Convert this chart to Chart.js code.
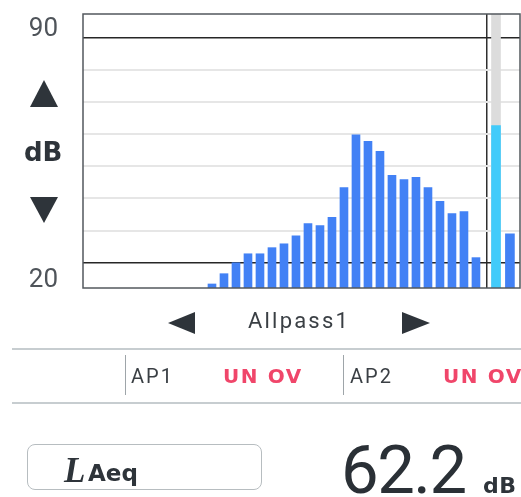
<!DOCTYPE html>
<html>
<head>
<meta charset="utf-8">
<script src="https://cdn.jsdelivr.net/npm/chart.js@4/dist/chart.umd.min.js"></script>
<style>
  html, body { margin: 0; padding: 0; background: #ffffff; }
  #page { position: relative; width: 521px; height: 497px; overflow: hidden; background: #fff; }
  #wrap { position: absolute; left: 0; top: 0; width: 521px; height: 497px; }
  .t { position: absolute; white-space: nowrap; margin: 0; padding: 0; }
  .tri { position: absolute; background: #2e343a; }
  .hl { position: absolute; height: 1.5px; background: #c7cdd0; }
  .vl { position: absolute; width: 1.5px; background: #9ea5a9; }
</style>
</head>
<body>
<div id="page">
  <div id="wrap"><canvas id="c"></canvas></div>

  <span class="t" id="yTop" style="font-family:Roboto;font-size:26px;line-height:26px;color:#4f545a;right:463px;top:14px;"></span>
  <div class="tri" style="left:30px;top:80px;width:28px;height:27px;clip-path:polygon(50% 0,100% 100%,0 100%);"></div>
  <span class="t" style="font-family:'DejaVu Sans';font-weight:bold;font-size:26px;line-height:26px;color:#2e343a;left:24px;top:139px;">dB</span>
  <div class="tri" style="left:30px;top:197px;width:28px;height:26px;clip-path:polygon(0 0,100% 0,50% 100%);"></div>
  <span class="t" id="yBot" style="font-family:Roboto;font-size:26px;line-height:26px;color:#4f545a;right:463px;top:264.5px;"></span>

  <div class="tri" style="left:168px;top:312px;width:27px;height:22px;clip-path:polygon(0 50%,100% 0,100% 100%);"></div>
  <span class="t" id="modeName" style="font-family:Roboto;font-size:22px;line-height:22px;color:#3a3f44;left:248px;top:309.5px;letter-spacing:2.2px;"></span>
  <div class="tri" style="left:402px;top:312px;width:28px;height:22px;clip-path:polygon(0 0,100% 50%,0 100%);"></div>

  <div class="hl" style="left:12px;top:348px;width:509px;"></div>
  <div class="vl" style="left:124.5px;top:355px;height:40px;"></div>
  <span class="t" id="ap1" style="font-family:Roboto;font-size:20px;line-height:20px;color:#3a3f44;left:131px;top:366px;letter-spacing:2px;"></span>
  <span class="t" id="st1" style="font-family:'DejaVu Sans';font-weight:bold;font-size:20px;line-height:20px;color:#f0466a;left:223px;top:366px;letter-spacing:1.6px;"></span>
  <div class="vl" style="left:342.5px;top:355px;height:40px;"></div>
  <span class="t" id="ap2" style="font-family:Roboto;font-size:20px;line-height:20px;color:#3a3f44;left:350px;top:366px;letter-spacing:2px;"></span>
  <span class="t" id="st2" style="font-family:'DejaVu Sans';font-weight:bold;font-size:20px;line-height:20px;color:#f0466a;left:443px;top:366px;letter-spacing:1.6px;"></span>
  <div class="hl" style="left:12px;top:402px;width:509px;"></div>

  <div style="position:absolute;left:26.5px;top:444px;width:233.5px;height:43.5px;border:1.5px solid #b7bdc0;border-radius:8px;"></div>
  <span class="t" style="font-family:'Liberation Serif';font-style:italic;font-weight:bold;font-size:35px;line-height:35px;color:#2e343a;left:64px;top:452.5px;">L</span>
  <span class="t" style="font-family:'DejaVu Sans';font-weight:bold;font-size:23px;line-height:23px;color:#2e343a;left:88px;top:462px;">Aeq</span>
  <span class="t" id="bigVal" style="font-family:Roboto;font-size:67px;line-height:67px;color:#2a3036;left:341px;top:436.5px;letter-spacing:-1.5px;"></span>
  <span class="t" style="font-family:'DejaVu Sans';font-weight:bold;font-size:22px;line-height:22px;color:#2e343a;left:483px;top:474.5px;letter-spacing:0.5px;">dB</span>
</div>

<script>
// ---- data ----
const bandLabels = ['12.5','16','20','25','31.5','40','50','63','80','100','125','160','200','250','315','400','500','630','800','1k','1.25k','1.6k','2k','2.5k','3.15k','4k','5k','6.3k','8k','10k','12.5k','16k','20k'];
const bandLevels = [null,null,null,null,null,null,null,null,null,null,
  13.4,16.6,20.0,22.8,22.8,24.7,25.9,28.4,32.2,31.6,34.1,43.4,59.8,57.8,54.7,47.2,45.9,46.6,43.4,39.1,35.3,35.9,21.6];
const overallLabels = ['AP1','AP2'];
const overallLevels = [62.7, 29.0];
const overallStatus = ['UN OV','UN OV'];
const yGridValues = [20,30,40,50,60,70,80,90];
const yTickLabels = ['90','20'];
const modeName = 'Allpass1';
const mainReading = '62.2';

// ---- text ----
document.getElementById('yTop').textContent = yTickLabels[0];
document.getElementById('yBot').textContent = yTickLabels[1];
document.getElementById('modeName').textContent = modeName;
document.getElementById('ap1').textContent = overallLabels[0];
document.getElementById('ap2').textContent = overallLabels[1];
document.getElementById('st1').textContent = overallStatus[0];
document.getElementById('st2').textContent = overallStatus[1];
document.getElementById('bigVal').textContent = mainReading;

// ---- scale layout ----
const Y_MIN = 12.15, Y_MAX = 97.4;
const X_MIN = -0.75, X_MAX = 35.67;
const SEP_X = 32.89;
const overallX = [33.67, 34.83];

const bandPoints = bandLevels.map((v, i) => ({ x: i, y: v }));
const trackPoints = [{ x: overallX[0], y: Y_MAX }];
const ap1Points = [{ x: overallX[0], y: overallLevels[0] }];
const ap2Points = [{ x: overallX[1], y: overallLevels[1] }];

const frame = {
  id: 'frame',
  afterDraw(chart) {
    const a = chart.chartArea, ctx = chart.ctx;
    ctx.save();
    ctx.strokeStyle = '#53585d';
    ctx.lineWidth = 1.5;
    ctx.strokeRect(a.left, a.top, a.right - a.left, a.bottom - a.top);
    ctx.restore();
  }
};

new Chart(document.getElementById('c'), {
  type: 'bar',
  data: {
    datasets: [
      { label: 'track', data: trackPoints, backgroundColor: '#dcdcdc', barThickness: 9, grouped: false, order: 3 },
      { label: 'bands', data: bandPoints, backgroundColor: '#4281f5', barThickness: 8, grouped: false, order: 1 },
      { label: overallLabels[0], data: ap1Points, backgroundColor: '#42cbfa', barThickness: 9, grouped: false, order: 0 },
      { label: overallLabels[1], data: ap2Points, backgroundColor: '#4281f5', barThickness: 9, grouped: false, order: 0 }
    ]
  },
  options: {
    responsive: true,
    maintainAspectRatio: false,
    animation: false,
    layout: { padding: { left: 83, top: 14, right: 1, bottom: 209 } },
    plugins: { legend: { display: false }, tooltip: { enabled: false } },
    scales: {
      x: {
        type: 'linear', min: X_MIN, max: X_MAX, offset: false, bounds: 'data',
        ticks: { display: false },
        border: { display: false },
        afterBuildTicks(s) { s.ticks = [{ value: SEP_X }]; },
        grid: { drawTicks: false, offset: false, color: '#2f2f2f', lineWidth: 1.5 }
      },
      y: {
        type: 'linear', min: Y_MIN, max: Y_MAX,
        ticks: { display: false },
        border: { display: false },
        afterBuildTicks(s) { s.ticks = yGridValues.map(v => ({ value: v })); },
        grid: {
          drawTicks: false,
          color: c => (c.tick && (c.tick.value === 20 || c.tick.value === 90)) ? '#262626' : '#e6e6e6',
          lineWidth: c => (c.tick && (c.tick.value === 20 || c.tick.value === 90)) ? 1.5 : 2
        }
      }
    }
  },
  plugins: [frame]
});
</script>
</body>
</html>
